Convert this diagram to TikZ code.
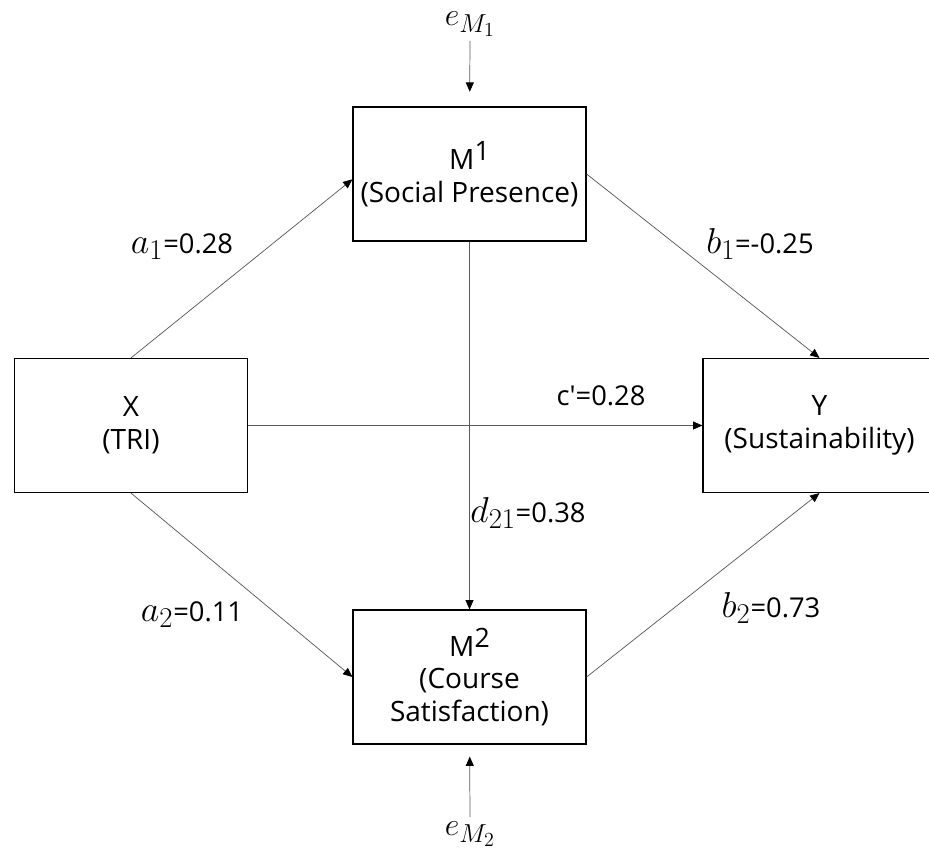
\RequirePackage{fix-cm}
\documentclass[tikz,border=0pt]{standalone}
\usepackage{fontspec}
\setmainfont{Open Sans}
\usetikzlibrary{arrows.meta}

\DeclareMathSizes{27}{27}{21.5}{16}
\DeclareMathSizes{24}{24}{19.5}{15}
\newcommand{\mth}[2][27]{{\fontsize{#1}{#1}\selectfont$#2$}}
\newcommand{\supnum}[1]{\raisebox{6.75pt}{\fontsize{20}{20}\selectfont #1}}

\tikzset{
  varbox/.style={draw, line width=0.9pt, minimum width=174.75pt, minimum height=100.5pt,
    align=center, inner sep=0pt, font=\fontsize{21}{24.5}\selectfont},
  effect/.style={draw=black!65, line width=0.55pt, -{Triangle[length=7pt,width=6pt,color=black]}},
  coef/.style={anchor=base, font=\fontsize{20.5}{22}\selectfont}
}

\begin{document}
\begin{tikzpicture}[x=0.75pt,y=-0.75pt]
  \useasboundingbox (0,0) rectangle (929,849);

  \node[varbox] (m1) at (469.5,174) {M\supnum{1}\\(Social Presence)};
  \node[varbox] (m2) at (469.5,677) {M\supnum{2}\\(Course\\Satisfaction)};
  \node[varbox] (x) at (131,425.5) {X\\(TRI)};
  \node[varbox] (y) at (819.5,425.5) {Y\\(Sustainability)};
  \node (em1) at (470,24) {\mth[24]{e_{M_1}}};
  \node (em2) at (470,834) {\mth[24]{e_{M_2}}};

  \draw[effect, shorten >=11pt] (em1) -- (m1);
  \draw[effect, shorten >=9pt] (em2) -- (m2);
  \draw[effect] (x.north) -- ([yshift=-4pt]m1.west);
  \draw[effect] (x.south) -- (m2.west);
  \draw[effect] (x.east) -- (y.west);
  \draw[effect] (m1.east) -- (y.north);
  \draw[effect] (m2.east) -- (y.south);
  \draw[effect] (m1.south) -- (m2.north);

  \node[coef] (a1) at (182,253) {\mth{a_1}=0.28};
  \node[coef] (b1) at (760,253) {\mth{b_1}=-0.25};
  \node[coef] (c) at (601,405) {c′=0.28};
  \node[coef] (d21) at (528,522) {\mth{d_{21}}=0.38};
  \node[coef] (a2) at (192,621) {\mth{a_2}=0.11};
  \node[coef] (b2) at (771,617) {\mth{b_2}=0.73};
\end{tikzpicture}
\end{document}
